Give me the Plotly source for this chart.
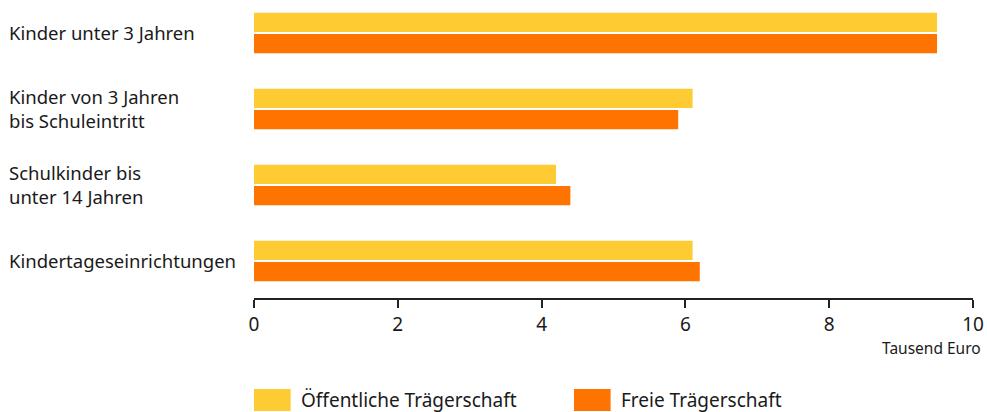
import plotly.graph_objects as go

categories = [
    "Kinder unter 3 Jahren",
    "Kinder von 3 Jahren<br>bis Schuleintritt",
    "Schulkinder bis<br>unter 14 Jahren",
    "Kindertageseinrichtungen",
]
oeffentlich = [9.5, 6.1, 4.2, 6.1]
frei = [9.5, 5.9, 4.4, 6.2]
series_names = ["Öffentliche Trägerschaft", "Freie Trägerschaft"]
colors = ["#FFCB33", "#FF7300"]
x_ticks = [0, 2, 4, 6, 8, 10]

font = "Noto Sans"
txt = "#1a1a1a"
pos = list(range(len(categories)))

fig = go.Figure()
for name, vals, col in zip(series_names, [oeffentlich, frei], colors):
    fig.add_trace(go.Bar(x=vals, y=pos, orientation="h", name=name,
                         marker=dict(color=col, line=dict(width=0)),
                         showlegend=False, hoverinfo="x+name"))

# category labels, left aligned
for i, c in enumerate(categories):
    fig.add_annotation(text=c, x=-0.343, xref="paper", y=i, yref="y",
                       xanchor="left", yanchor="middle", showarrow=False,
                       align="left", font=dict(size=18.5, color=txt, family=font))

fig.add_annotation(text="Tausend Euro", x=1.0139, xref="paper", y=-0.168, yref="paper",
                   xanchor="right", yanchor="middle", showarrow=False,
                   font=dict(size=15.5, color=txt, family=font))

# legend drawn as swatches + text
leg_x = [0.0, 0.445]
for lx, name, col in zip(leg_x, series_names, colors):
    fig.add_shape(type="rect", xref="paper", yref="paper",
                  x0=lx, x1=lx + 0.051, y0=-0.379, y1=-0.305,
                  fillcolor=col, line=dict(width=0))
    fig.add_annotation(text=name, x=lx + 0.062, xref="paper", y=-0.342, yref="paper",
                       xanchor="left", yanchor="middle", showarrow=False,
                       font=dict(size=19, color=txt, family=font))

fig.update_layout(
    width=987, height=412,
    margin=dict(l=254, r=14, t=0, b=114),
    paper_bgcolor="white", plot_bgcolor="white",
    barmode="group", bargap=0.44, bargroupgap=0.1,
    font=dict(family=font, color=txt, size=18),
    xaxis=dict(range=[0, 10], tickvals=x_ticks, showgrid=False, zeroline=False,
               showline=True, linecolor="#222222", linewidth=2,
               ticks="outside", ticklen=8, tickwidth=2, tickcolor="#222222",
               tickfont=dict(size=19, color=txt)),
    yaxis=dict(range=[3.487, -0.434], showticklabels=False, showgrid=False,
               zeroline=False, showline=False),
)

# page has a default body margin; drop it so the figure fills the window
fig.write_html("out.html", config={"displayModeBar": False},
               post_script="document.body.style.margin='0';document.body.style.overflow='hidden';")
